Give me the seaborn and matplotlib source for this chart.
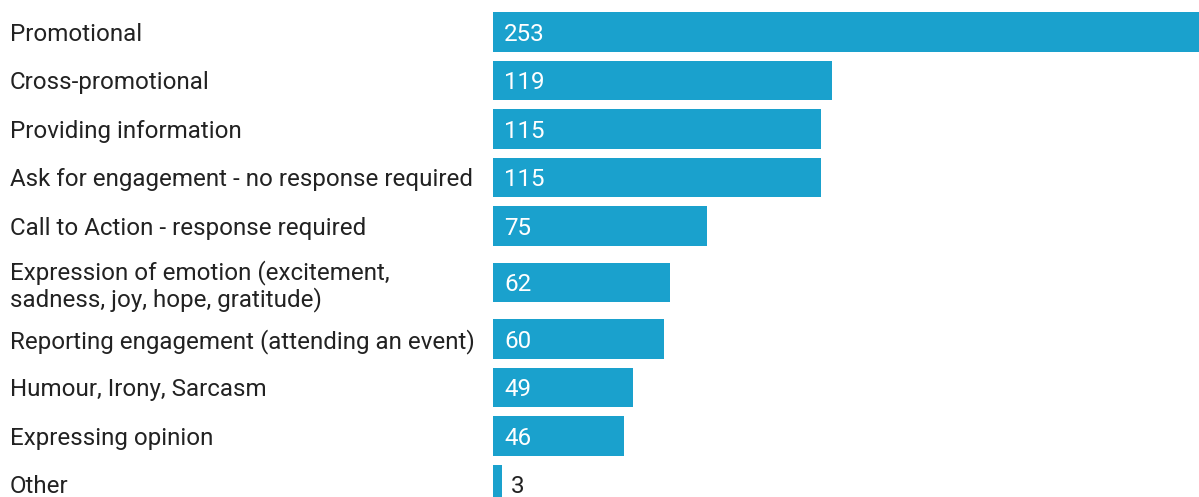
import matplotlib
matplotlib.use("Agg")
import matplotlib.pyplot as plt
import matplotlib.transforms as mtransforms
import numpy as np
import pandas as pd
import seaborn as sns

categories = [
    "Promotional",
    "Cross-promotional",
    "Providing information",
    "Ask for engagement - no response required",
    "Call to Action - response required",
    "Expression of emotion (excitement,\nsadness, joy, hope, gratitude)",
    "Reporting engagement (attending an event)",
    "Humour, Irony, Sarcasm",
    "Expressing opinion",
    "Other",
]
counts = [253, 119, 115, 115, 75, 62, 60, 49, 46, 3]

BAR_COLOR = "#1aa1cd"
TEXT_COLOR = "#222222"
FONT_SIZE = 17.4

sns.set_theme(style="white")
plt.rcParams["font.family"] = ["Roboto", "DejaVu Sans"]

# Row positions: rows whose label wraps onto two lines get extra room
extra = 0.33
heights = np.array([1 + extra * (c.count("\n")) for c in categories])
pos = np.concatenate([[0.0], np.cumsum((heights[:-1] + heights[1:]) / 2)])

df = pd.DataFrame({"category": categories, "count": counts, "pos": pos})

fig = plt.figure(figsize=(11.99, 4.97), dpi=100)
left_px = 493
ax = fig.add_axes([left_px / 1199, 0, 1 - left_px / 1199, 1])

sns.barplot(data=df, x="count", y="pos", orient="y", native_scale=True,
            width=0.82, color=BAR_COLOR, saturation=1, linewidth=0, ax=ax)

ax.set_xlim(0, (1199 - left_px) / 2.85)
ax.set_ylim(pos[-1] + 0.26, -0.66)
ax.axis("off")

label_tf = mtransforms.blended_transform_factory(fig.transFigure, ax.transData)
for cat, p in zip(categories, pos):
    ax.text(10 / 1199, p, cat, transform=label_tf, ha="left",
            va="center_baseline", fontsize=FONT_SIZE, color=TEXT_COLOR,
            linespacing=1.1, clip_on=False)

for c, p in zip(counts, pos):
    if c >= 20:
        ax.annotate(str(c), xy=(0, p), xytext=(8, 0), textcoords="offset points",
                    ha="left", va="center_baseline", fontsize=FONT_SIZE,
                    color="white")
    else:
        ax.annotate(str(c), xy=(c, p), xytext=(7, 0), textcoords="offset points",
                    ha="left", va="center_baseline", fontsize=FONT_SIZE,
                    color=TEXT_COLOR)

fig.savefig("out.png", dpi=100, facecolor="white")
